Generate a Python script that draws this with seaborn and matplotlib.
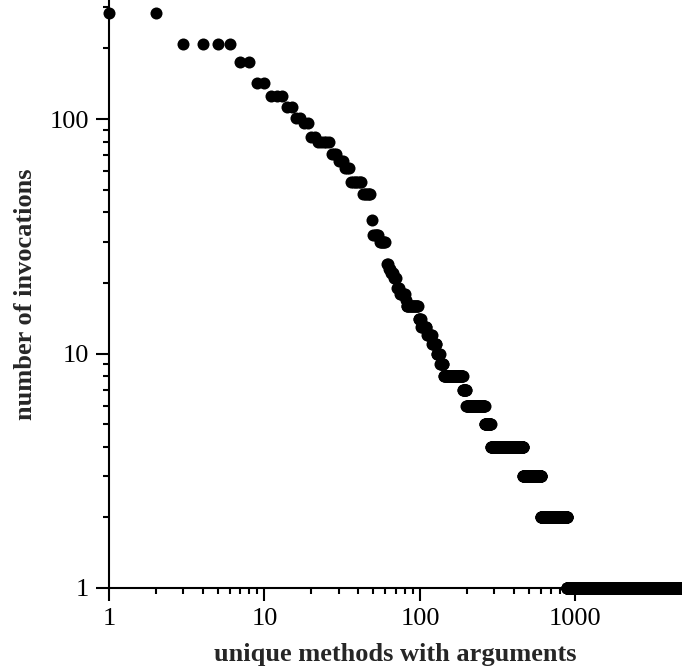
import numpy as np
import pandas as pd
import matplotlib
matplotlib.use("Agg")
import matplotlib.pyplot as plt
import seaborn as sns
from matplotlib.ticker import LogLocator, FixedLocator, NullFormatter

# --- data: invocation count per unique method, as runs of equal count ---
counts = [284, 208, 175, 143, 126, 113, 101, 96, 84, 80,
          71, 66, 62, 54, 48, 37, 32, 30, 24, 23,
          22, 21, 19, 18, 17, 16, 14, 13, 12, 11,
          10, 9, 8, 7, 6, 5, 4, 3, 2, 1]
run_lengths = [2, 4, 2, 2, 3, 2, 2, 2, 2, 5,
               3, 3, 3, 7, 6, 1, 5, 6, 2, 2,
               3, 3, 3, 7, 1, 16, 4, 9, 9, 8,
               7, 7, 47, 10, 62, 25, 175, 140, 280, 3970]

x_ticks = [1, 10, 100, 1000]
x_tick_labels = ["1", "10", "100", "1000"]
y_ticks = [1, 10, 100]
y_tick_labels = ["1", "10", "100"]

# expand runs into (rank, count) rows
invocations = np.repeat(counts, run_lengths)
rank = np.arange(1, len(invocations) + 1)
df = pd.DataFrame({"rank": rank, "invocations": invocations})

sns.set_style("ticks")
plt.rcParams['font.family'] = ['Liberation Serif', 'DejaVu Serif']

fig = plt.figure(figsize=(6.82, 6.70), dpi=100)
ax = fig.add_axes([0.1598, 0.1224, 1 - 0.1598, 1 - 0.1224])

sns.scatterplot(data=df, x="rank", y="invocations", ax=ax,
                color="black", s=75, linewidth=0, clip_on=False, legend=False)

ax.set_xscale("log")
ax.set_yscale("log")
ax.set_xlim(1, 4842)
ax.set_ylim(1, 322)

ax.xaxis.set_major_locator(FixedLocator(x_ticks))
ax.set_xticklabels(x_tick_labels)
ax.yaxis.set_major_locator(FixedLocator(y_ticks))
ax.set_yticklabels(y_tick_labels)
ax.xaxis.set_minor_locator(LogLocator(base=10, subs=np.arange(2, 10)))
ax.yaxis.set_minor_locator(LogLocator(base=10, subs=np.arange(2, 10)))
ax.xaxis.set_minor_formatter(NullFormatter())
ax.yaxis.set_minor_formatter(NullFormatter())

for side in ["top", "right"]:
    ax.spines[side].set_visible(False)
for side in ["left", "bottom"]:
    ax.spines[side].set_linewidth(1.5)
    ax.spines[side].set_color("black")

ax.tick_params(which="major", direction="out", length=9.5, width=1.5,
               labelsize=19, colors="black", pad=5)
ax.tick_params(which="minor", direction="out", length=4, width=1.5, colors="black")

ax.set_xlabel("unique methods with arguments", fontsize=19, fontweight="bold", labelpad=9)
ax.set_ylabel("number of invocations", fontsize=19, fontweight="bold", labelpad=9)

fig.savefig("out.png", dpi=100)
